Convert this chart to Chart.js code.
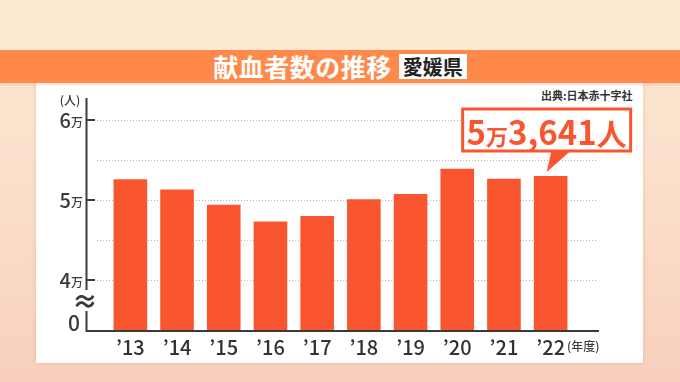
<!DOCTYPE html>
<html lang="ja">
<head>
<meta charset="utf-8">
<script src="https://cdn.jsdelivr.net/npm/chart.js@4.4.1/dist/chart.umd.min.js"></script>
<style>
  html, body { margin: 0; padding: 0; }
  body {
    width: 680px; height: 382px; position: relative; overflow: hidden;
    background: linear-gradient(180deg, #fdead3 0%, #fbe0cc 45%, #f8d0bd 100%);
    font-family: "Noto Sans CJK JP", "Noto Sans", sans-serif;
  }
  .band {
    position: absolute; left: 0; top: 50px; width: 680px; height: 33px;
    background: #ff894a; box-shadow: 0 2px 3px rgba(120, 60, 20, 0.15);
    display: flex; justify-content: center; align-items: center; gap: 7px;
  }
  .title { color: #fff; font-weight: 700; font-size: 25px; letter-spacing: 0.5px; line-height: 33px; }
  .pref {
    background: #fff; color: #222; font-weight: 700; font-size: 20px;
    line-height: 25px; height: 25px; padding: 0 4px;
  }
  .panel {
    position: absolute; left: 36px; top: 83px; width: 607px; height: 280px;
    background: #fff; box-shadow: 0 0 4px rgba(170, 100, 60, 0.25);
  }
  .source {
    position: absolute; left: 541px; top: 87px;
    font-size: 11px; font-weight: 700; color: #333;
  }
  #chart { position: absolute; left: 0; top: 0; }
</style>
</head>
<body>
<div class="panel"></div>
<div class="band"><span class="title">献血者数の推移</span><span class="pref">愛媛県</span></div>
<div class="source">出典:日本赤十字社</div>
<canvas id="chart" width="680" height="382"></canvas>
<script>
// fiscal years and donors (people), Ehime
const years = ["’13", "’14", "’15", "’16", "’17", "’18", "’19", "’20", "’21", "’22"];
const donors = [52600, 51300, 49400, 47300, 48000, 50100, 50750, 53900, 52650, 53000];

// y axis: broken between 0 and 4万
const gridValues = [40000, 45000, 50000, 55000, 60000];
const tickValues = [40000, 50000, 60000];
const tickDigits = ["4", "5", "6"];
const tickUnit = "万";
const yMin = 33625;
const yMax = 62750;

const calloutParts = [["5", 33], ["万", 22], ["3,641", 33], ["人", 30]];

const RED = "#f9552f";
const AXIS = "#3a3a3a";
const FONT = '"Noto Sans CJK JP", "Noto Sans", sans-serif';

const axesPlugin = {
  id: "axes",
  beforeDatasetsDraw(chart) {
    const ctx = chart.ctx;
    const y = chart.scales.y;
    ctx.save();
    ctx.strokeStyle = "#b5b5b5";
    ctx.lineWidth = 1;
    ctx.setLineDash([1, 2]);
    gridValues.forEach((v) => {
      const py = Math.round(y.getPixelForValue(v)) + 0.5;
      ctx.beginPath();
      ctx.moveTo(97, py);
      ctx.lineTo(598, py);
      ctx.stroke();
    });
    ctx.restore();
  },
  afterDatasetsDraw(chart) {
    const ctx = chart.ctx;
    const y = chart.scales.y;
    const area = chart.chartArea;
    const ax = 86.5;
    const base = y.getPixelForValue(yMin);
    const breakTop = y.getPixelForValue(40000) + 10;
    const breakBottom = base - 20;

    ctx.save();
    ctx.strokeStyle = AXIS;
    ctx.lineWidth = 2;
    ctx.beginPath();
    ctx.moveTo(ax, area.top);
    ctx.lineTo(ax, breakTop);
    ctx.moveTo(ax, breakBottom);
    ctx.lineTo(ax, base);
    ctx.lineTo(599, base);
    ctx.stroke();

    // tick marks + labels
    ctx.fillStyle = AXIS;
    ctx.textBaseline = "alphabetic";
    tickValues.forEach((v, i) => {
      const py = y.getPixelForValue(v);
      ctx.beginPath();
      ctx.moveTo(ax, py);
      ctx.lineTo(95, py);
      ctx.stroke();
      ctx.textAlign = "right";
      ctx.font = "500 12px " + FONT;
      ctx.fillText(tickUnit, 83, py + 7);
      const uw = ctx.measureText(tickUnit).width;
      ctx.font = "500 20px " + FONT;
      ctx.fillText(tickDigits[i], 83 - uw, py + 8);
    });
    ctx.font = "500 21px " + FONT;
    ctx.textAlign = "right";
    ctx.fillText("0", 80, base - 0.5);

    // break mark
    ctx.font = "700 26px " + FONT;
    ctx.textAlign = "center";
    ctx.textBaseline = "middle";
    ctx.fillText("≈", 85, breakTop + 11);

    ctx.font = "500 12px " + FONT;
    ctx.fillText("(人)", 70, 100);
    ctx.textAlign = "left";
    ctx.fillText("(年度)", 567, 346);
    ctx.restore();

    // callout on the last bar
    const bar = chart.getDatasetMeta(0).data[donors.length - 1];
    const tipX = bar.x - 4;
    const tipY = bar.y - 4;
    const bx = tipX - 84, by = tipY - 63, bw = 168, bh = 42;
    ctx.save();
    ctx.fillStyle = "#fff";
    ctx.fillRect(bx, by, bw, bh);
    ctx.strokeStyle = RED;
    ctx.lineWidth = 3;
    ctx.strokeRect(bx, by, bw, bh);
    ctx.fillStyle = RED;
    ctx.beginPath();
    ctx.moveTo(tipX + 5, by + bh - 1);
    ctx.lineTo(tipX + 25, by + bh - 1);
    ctx.lineTo(tipX, tipY);
    ctx.closePath();
    ctx.fill();

    let total = 0;
    calloutParts.forEach(([t, s]) => {
      ctx.font = "700 " + s + "px " + FONT;
      total += ctx.measureText(t).width;
    });
    let x = bx + (bw - total) / 2;
    ctx.textBaseline = "alphabetic";
    ctx.textAlign = "left";
    calloutParts.forEach(([t, s]) => {
      ctx.font = "700 " + s + "px " + FONT;
      ctx.fillText(t, x, by + 36);
      x += ctx.measureText(t).width;
    });
    ctx.restore();
  },
};

new Chart(document.getElementById("chart"), {
  type: "bar",
  data: {
    labels: years,
    datasets: [{
      data: donors,
      backgroundColor: RED,
      barPercentage: 0.72,
      categoryPercentage: 1,
    }],
  },
  options: {
    responsive: false,
    animation: false,
    layout: { padding: { left: 107, right: 106, top: 98, bottom: 0 } },
    plugins: { legend: { display: false }, tooltip: { enabled: false } },
    scales: {
      x: {
        grid: { display: false, drawTicks: false },
        border: { display: false },
        ticks: {
          color: "#333",
          padding: 4,
          font: { family: FONT, size: 20, weight: "500" },
        },
        afterFit: (s) => { s.height = 51; },
      },
      y: { display: false, min: yMin, max: yMax },
    },
  },
  plugins: [axesPlugin],
});
</script>
</body>
</html>
